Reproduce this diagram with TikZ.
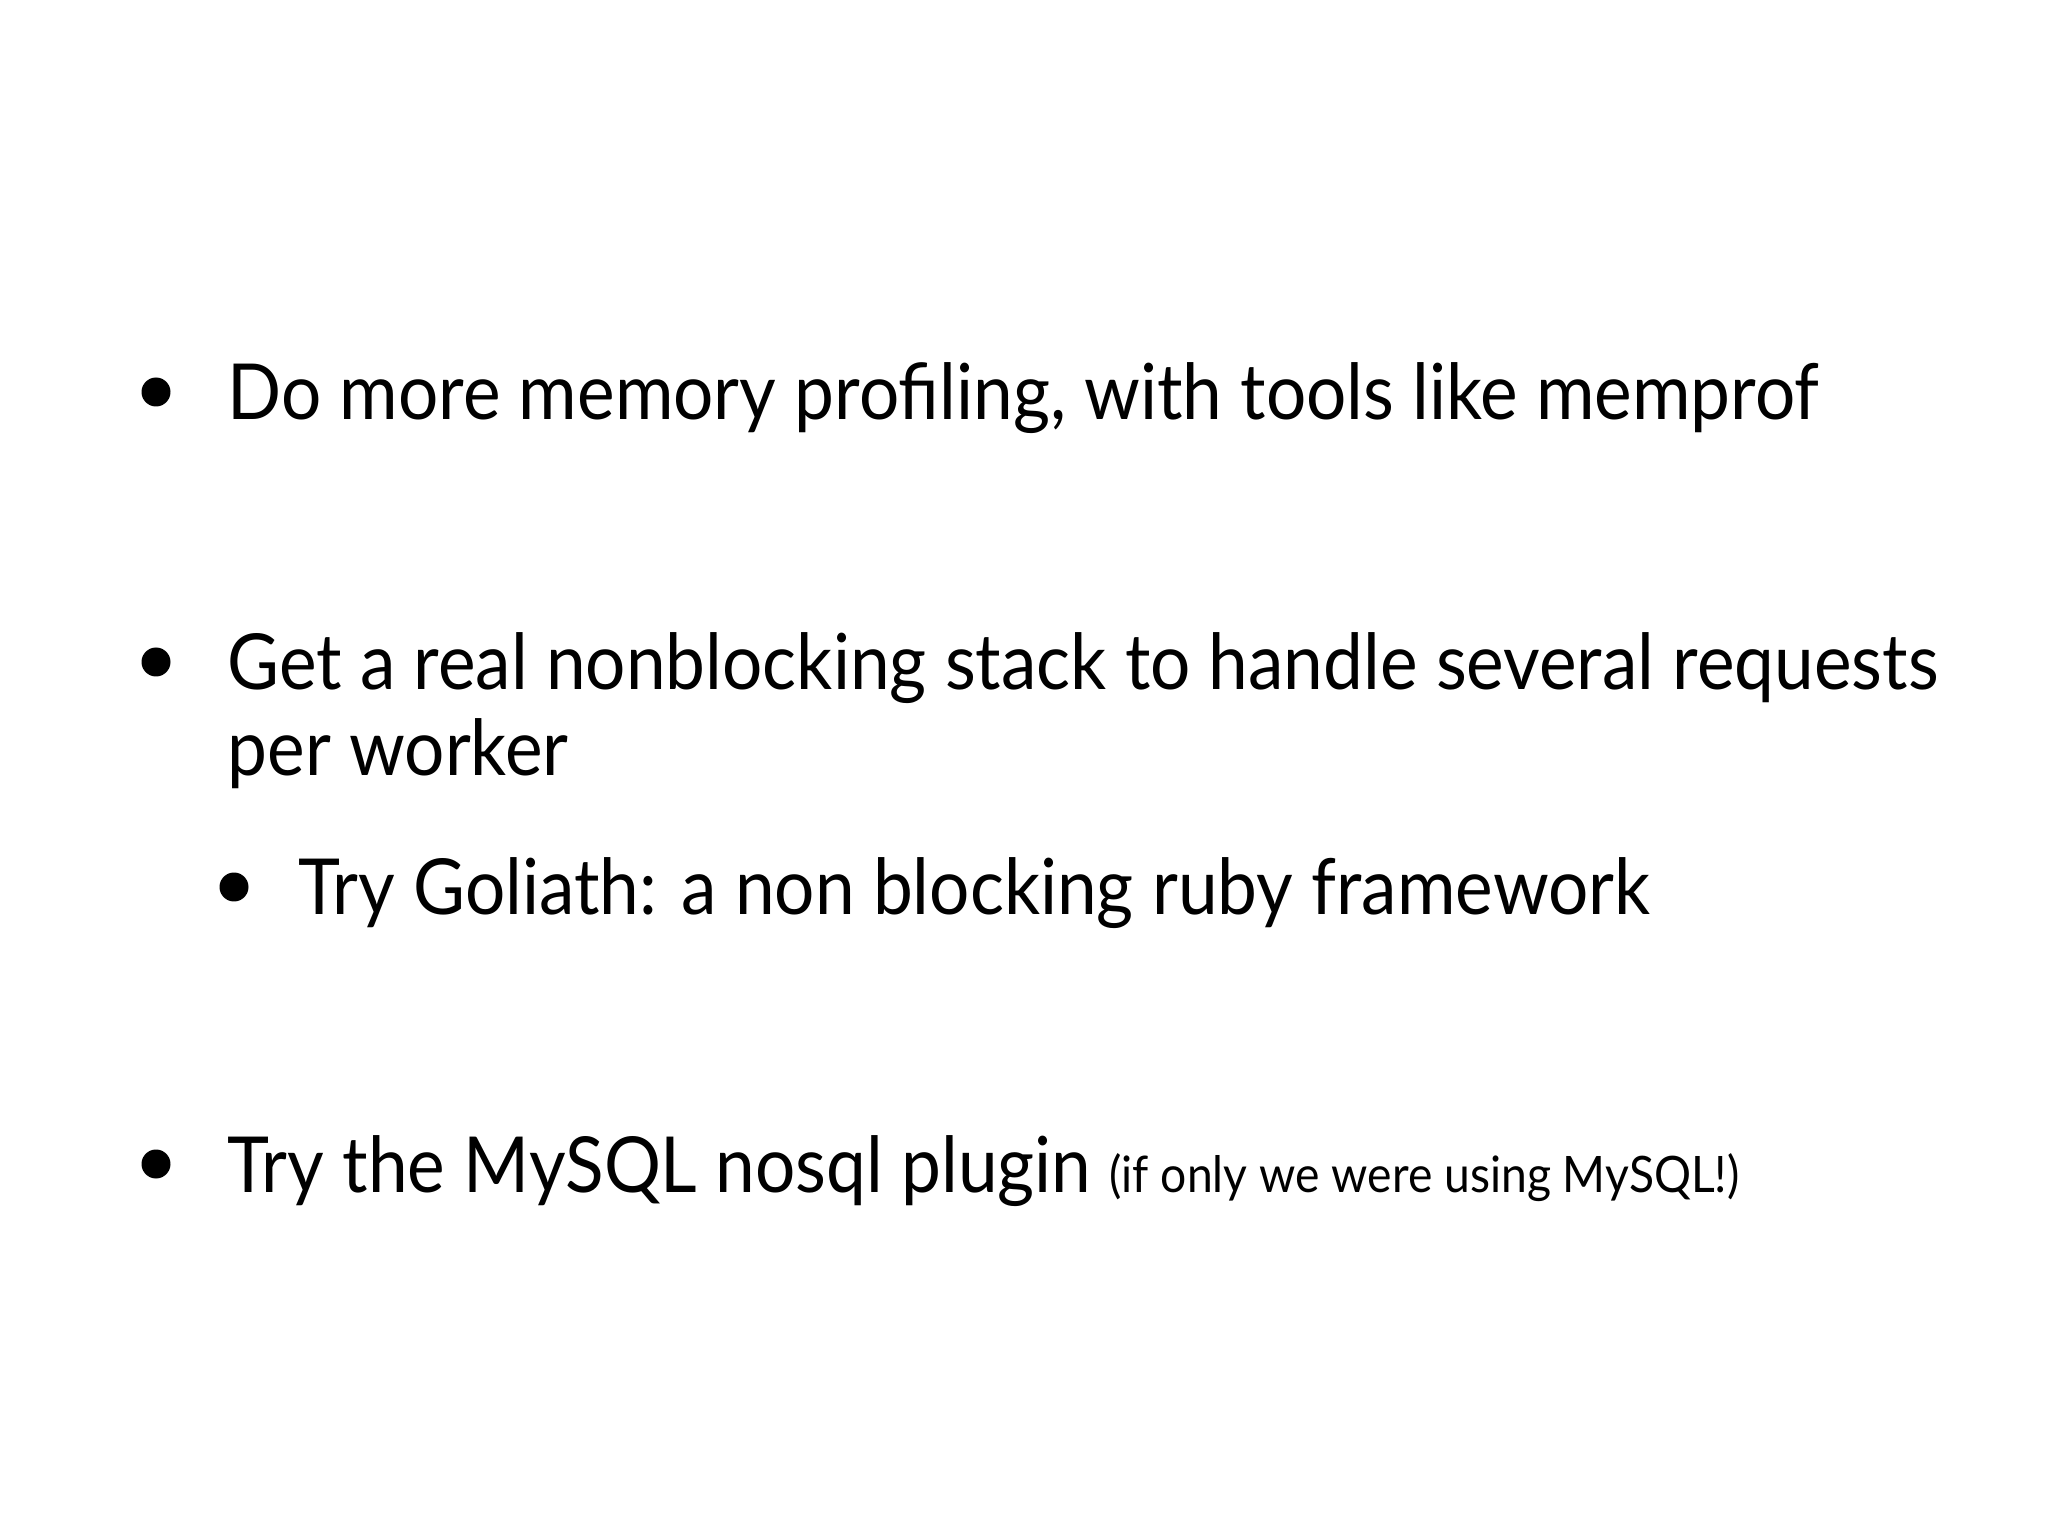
\documentclass[tikz,border=0pt]{standalone}
\usepackage{fontspec}
\setmainfont{Lato}[FakeStretch=0.92]
\tikzset{item/.style={anchor=base west,inner sep=0pt,font=\fontsize{22}{26}\selectfont},
dot/.style={circle,fill=black,inner sep=0pt,minimum size=0.29cm}}
\begin{document}
\begin{tikzpicture}
\useasboundingbox (0,0) rectangle (20.48,-15.36);
\node[dot] (b1) at (1.56,-3.92) {};
\node[item] (t1) at (2.27,-4.20) {Do more memory profiling, with tools like memprof};
\node[dot] (b2) at (1.56,-6.62) {};
\node[item] (t2) at (2.27,-6.90) {Get a real nonblocking stack to handle several requests};
\node[item] (t2b) at (2.27,-7.75) {per worker};
\node[dot] (b3) at (2.34,-8.87) {};
\node[item] (t3) at (2.98,-9.15) {Try Goliath: a non blocking ruby framework};
\node[dot] (b4) at (1.56,-11.64) {};
\node[item] (t4) at (2.27,-11.92) {Try the MySQL nosql plugin {\fontsize{14.3}{17}\selectfont (if only we were using MySQL!)}};
\end{tikzpicture}
\end{document}
